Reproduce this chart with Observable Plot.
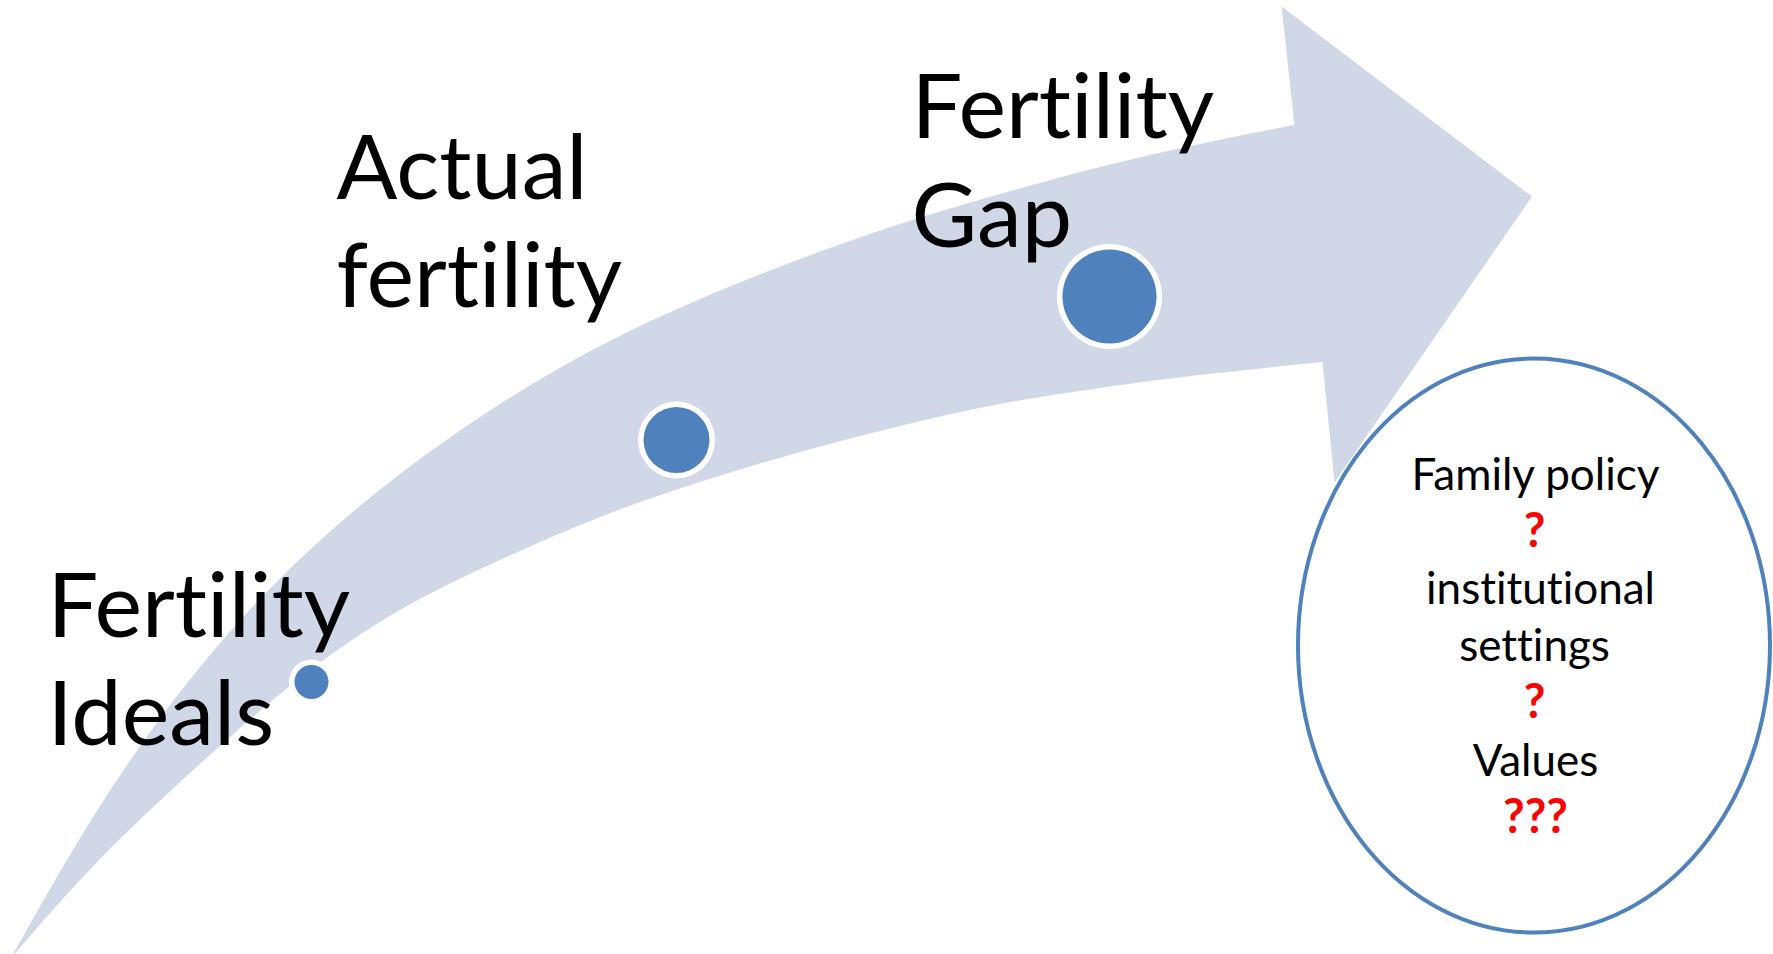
<!DOCTYPE html>
<html>
<head>
<meta charset="utf-8">
<script src="https://cdn.jsdelivr.net/npm/d3@7"></script>
<script src="https://cdn.jsdelivr.net/npm/@observablehq/plot@0.6"></script>
<style>
  html, body { margin: 0; padding: 0; background: #ffffff; }
  #chart svg { display: block; }
  #chart svg text { font-variant-ligatures: none; font-feature-settings: "liga" 0, "clig" 0; }
</style>
</head>
<body>
<div id="chart"></div>
<script>
// ---------- data (pixel coordinates) ----------
// Upward curved arrow: outer (upper) edge of the shaft, left to right
const outerEdgeX = [11, 100, 200, 300, 400, 500, 600, 700, 800, 900, 1000, 1100, 1200, 1294, 1340];
const outerEdgeY = [958, 806, 667, 559, 474, 404, 346, 299, 259, 224, 194, 167, 144, 125, 116];
// inner (lower) edge of the shaft, left to right
const innerEdgeX = [11, 100, 200, 300, 400, 500, 600, 700, 800, 900, 1000, 1100, 1200, 1322, 1340];
const innerEdgeY = [958, 859, 764, 678, 610, 560, 517, 482, 452, 426, 404, 388, 375, 362, 360];
const frameBottom = 958;
// arrow head
const headX = [1281, 1531.5, 1334, 1322, 1294];
const headY = [6, 196, 482, 362, 125];

// milestone dots
const dotX = [311, 676, 1109];
const dotY = [681.5, 439.5, 296];
const dotRadius = [17, 33, 47];

// milestone labels (one entry per line, baseline position)
const labelLines = ["Fertility", "Ideals", "Actual", "fertility", "Fertility", "Gap"];
const labelX = [47, 47, 336, 336, 911, 911];
const labelBaseline = [636, 744, 198, 306, 137, 246];

// ellipse with the explanatory factors
const ellipseCx = 1533.5, ellipseCy = 645, ellipseRx = 236, ellipseRy = 287;
const factorLines = ["Family policy", "?", "institutional", "settings", "?", "Values", "???"];
const factorX = [1535, 1534, 1540, 1534, 1534, 1535, 1535];
const factorBaseline = [489, 546, 603, 660, 717, 775, 832];
const factorIsQuestion = [false, true, false, false, true, false, true];

// ---------- styles ----------
const arrowColor = "#d0d8e8";
const blue = "#4f81bd";
const ring = 5.5;
const font = "Lato, 'Open Sans', sans-serif";

// ---------- derived tables ----------
const outer = outerEdgeX.map((x, i) => ({x, y: outerEdgeY[i], base: frameBottom}));
const inner = innerEdgeX.map((x, i) => ({x, y: innerEdgeY[i], base: frameBottom}));
const head = headX.map((x, i) => ({x, y: headY[i]}));
const dots = dotX.map((x, i) => ({x, y: dotY[i], r: dotRadius[i]}));
const labels = labelLines.map((t, i) => ({t, x: labelX[i], y: labelBaseline[i]}));
const factors = factorLines.map((t, i) => ({t, x: factorX[i], y: factorBaseline[i], q: factorIsQuestion[i]}));

const ellipseSymbol = {
  draw(context) {
    const k = 0.5522847498, a = ellipseRx, b = ellipseRy;
    context.moveTo(a, 0);
    context.bezierCurveTo(a, k * b, k * a, b, 0, b);
    context.bezierCurveTo(-k * a, b, -a, k * b, -a, 0);
    context.bezierCurveTo(-a, -k * b, -k * a, -b, 0, -b);
    context.bezierCurveTo(k * a, -b, a, -k * b, a, 0);
    context.closePath();
  }
};

const chart = Plot.plot({
  width: 1773,
  height: 954,
  margin: 0,
  style: {background: "#ffffff", overflow: "hidden"},
  x: {domain: [0, 1773], range: [0, 1773], axis: null},
  y: {domain: [0, 954], range: [0, 954], axis: null},
  r: {type: "linear", domain: [0, 100], range: [0, 100]},
  marks: [
    // shaft: fill below the outer edge, then clear below the inner edge
    Plot.areaY(outer, {x: "x", y1: "base", y2: "y", fill: arrowColor, curve: "natural"}),
    Plot.areaY(inner, {x: "x", y1: "base", y2: "y", fill: "#ffffff", curve: "natural"}),
    Plot.line(head, {x: "x", y: "y", fill: arrowColor, stroke: "none", curve: "linear-closed"}),
    Plot.dot([ellipseCx], {x: () => ellipseCx, y: () => ellipseCy, symbol: ellipseSymbol, r: 10,
      fill: "#ffffff", stroke: blue, strokeWidth: 4}),
    Plot.dot(dots, {x: "x", y: "y", r: d => d.r + ring, fill: "#ffffff", stroke: "none"}),
    Plot.dot(dots, {x: "x", y: "y", r: "r", fill: blue, stroke: "none"}),
    Plot.text(labels, {x: "x", y: "y", text: "t", textAnchor: "start", lineAnchor: "bottom",
      fontSize: 90, fontFamily: font, fill: "#000000"}),
    Plot.text(factors.filter(d => !d.q), {x: "x", y: "y", text: "t", textAnchor: "middle", lineAnchor: "bottom",
      fontSize: 44, fontFamily: font, fill: "#000000"}),
    Plot.text(factors.filter(d => d.q), {x: "x", y: "y", text: "t", textAnchor: "middle", lineAnchor: "bottom",
      fontSize: 47, fontFamily: font, fontWeight: "bold", fill: "#ff0000"})
  ]
});
document.getElementById("chart").appendChild(chart);
</script>
</body>
</html>
